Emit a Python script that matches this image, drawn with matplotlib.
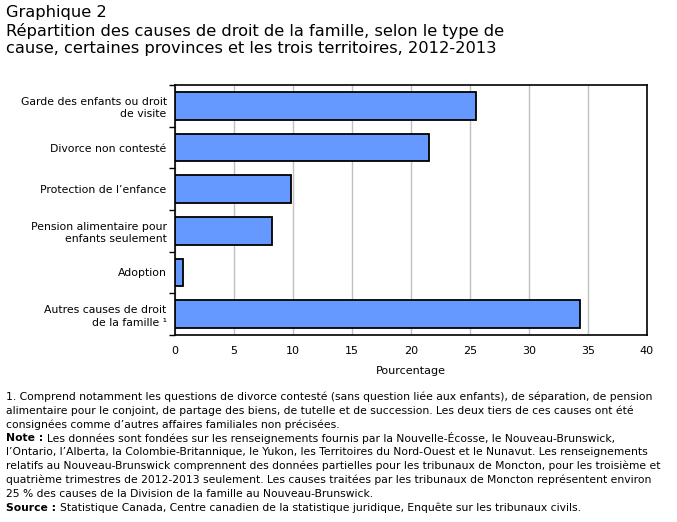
import matplotlib
matplotlib.use("Agg")
import matplotlib.pyplot as plt

categories = [
    "Garde des enfants ou droit\nde visite",
    "Divorce non contesté",
    "Protection de l\u2019enfance",
    "Pension alimentaire pour\nenfants seulement",
    "Adoption",
    "Autres causes de droit\nde la famille \u00b9",
]
values = [25.5, 21.5, 9.8, 8.2, 0.7, 34.3]
xticks = [0, 5, 10, 15, 20, 25, 30, 35, 40]

W, H = 677, 522
plt.rcParams['font.family'] = ['DejaVu Sans']
fig = plt.figure(figsize=(W / 100, H / 100), dpi=100)

left, right, top, bottom = 175, 647, 85, 335
ax = fig.add_axes([left / W, 1 - bottom / H, (right - left) / W, (bottom - top) / H])

ypos = list(range(len(categories)))
ax.barh(ypos, values, height=0.67, color="#6699FF", edgecolor="black", linewidth=1.3, zorder=3)
ax.set_ylim(len(categories) - 0.5, -0.5)
ax.set_xlim(0, 40)
ax.set_xticks(xticks)
ax.set_xticklabels([str(t) for t in xticks], fontsize=8)
ax.tick_params(axis="x", length=0, pad=8)
ax.set_yticks([i - 0.5 for i in range(len(categories) + 1)], minor=False)
ax.set_yticklabels([])
ax.tick_params(axis="y", length=4, width=1, direction="out")
ax.set_yticks(ypos, minor=True)
ax.set_yticklabels(categories, minor=True, fontsize=7.8, ha="right", linespacing=1.3)
ax.tick_params(axis="y", which="minor", length=0, pad=6)
ax.grid(axis="x", color="#C0C0C0", linewidth=1, zorder=0)
for s in ax.spines.values():
    s.set_linewidth(1.2)
    s.set_color("black")
ax.set_xlabel("Pourcentage", fontsize=8, labelpad=7)

tfs = 11.7
fig.text(6 / W, 1 - 13 / H, "Graphique 2", fontsize=tfs, va="center", ha="left")
fig.text(6 / W, 1 - 31 / H, "R\u00e9partition des causes de droit de la famille, selon le type de",
         fontsize=tfs, va="center", ha="left")
fig.text(6 / W, 1 - 49 / H, "cause, certaines provinces et les trois territoires, 2012-2013",
         fontsize=tfs, va="center", ha="left")

notes1 = [
    "1. Comprend notamment les questions de divorce contest\u00e9 (sans question li\u00e9e aux enfants), de s\u00e9paration, de pension",
    "alimentaire pour le conjoint, de partage des biens, de tutelle et de succession. Les deux tiers de ces causes ont \u00e9t\u00e9",
    "consign\u00e9es comme d\u2019autres affaires familiales non pr\u00e9cis\u00e9es.",
]
note_lines = [
    "Les donn\u00e9es sont fond\u00e9es sur les renseignements fournis par la Nouvelle-\u00c9cosse, le Nouveau-Brunswick,",
    "l\u2019Ontario, l\u2019Alberta, la Colombie-Britannique, le Yukon, les Territoires du Nord-Ouest et le Nunavut. Les renseignements",
    "relatifs au Nouveau-Brunswick comprennent des donn\u00e9es partielles pour les tribunaux de Moncton, pour les troisi\u00e8me et",
    "quatri\u00e8me trimestres de 2012-2013 seulement. Les causes trait\u00e9es par les tribunaux de Moncton repr\u00e9sentent environ",
    "25 % des causes de la Division de la famille au Nouveau-Brunswick.",
]

# fit note font size so the first note line spans ~ the reference width
renderer = fig.canvas.get_renderer()
probe = fig.text(0, 0, notes1[0], fontsize=8)
wpx = probe.get_window_extent(renderer).width
probe.remove()
nfs = 8 * 644 / wpx

y = 397
for line in notes1:
    fig.text(6 / W, 1 - y / H, line, fontsize=nfs, va="center", ha="left")
    y += 14

def prefixed(yy, label, rest):
    t = fig.text(6 / W, 1 - yy / H, label, fontsize=nfs, va="center", ha="left", weight="bold")
    wb = t.get_window_extent(renderer).width
    fig.text((6 + wb + 4) / W, 1 - yy / H, rest, fontsize=nfs, va="center", ha="left")

y = 438
prefixed(y, "Note :", note_lines[0])
y += 14
for line in note_lines[1:]:
    fig.text(6 / W, 1 - y / H, line, fontsize=nfs, va="center", ha="left")
    y += 14

prefixed(508, "Source :", "Statistique Canada, Centre canadien de la statistique juridique, Enqu\u00eate sur les tribunaux civils.")

fig.savefig("out.png", dpi=100)
